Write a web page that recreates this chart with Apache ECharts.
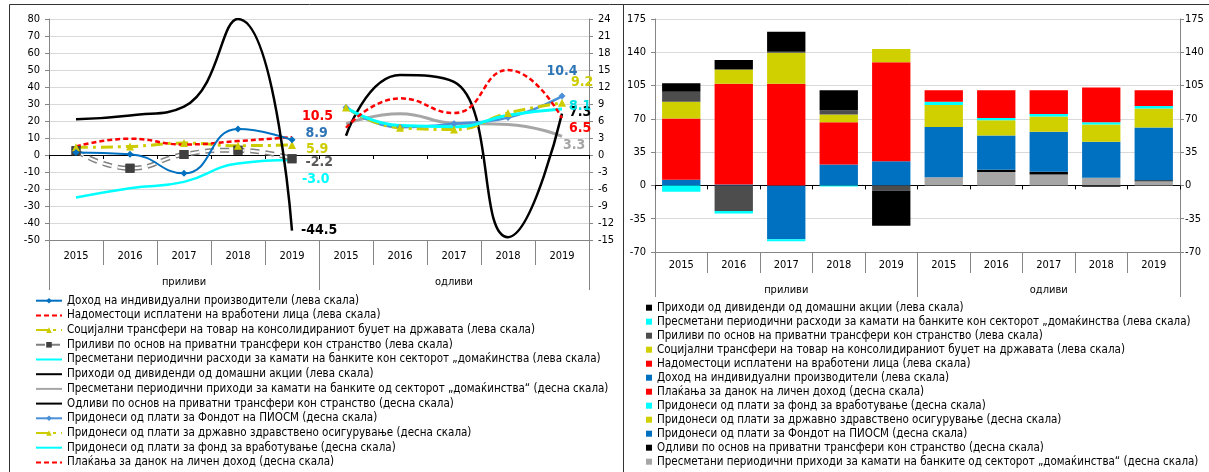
<!DOCTYPE html>
<html>
<head>
<meta charset="utf-8">
<script src="https://cdn.jsdelivr.net/npm/echarts@6/dist/echarts.min.js"></script>
<style>
html,body{margin:0;padding:0;background:#fff;}
#c{width:1209px;height:472px;}
</style>
</head>
<body>
<div id="c"></div>
<script>
// ---------- data ----------
const years = ['2015', '2016', '2017', '2018', '2019'];
const groups = ['приливи', 'одливи'];

// line chart: inflows (left scale)
const lnDohod = [1.5, 0.5, -10.8, 15.3, 8.9];
const lnNadomestoci = [5.0, 9.6, 6.2, 8.2, 10.5];
const lnSocijalni = [4.5, 5.0, 7.0, 5.5, 5.9];
const lnPrilivTransferi = [2.5, -7.8, 0.3, 2.8, -2.2];
const lnKamatiRashodi = [-25.0, -19.5, -15.8, -5.0, -3.0];
const lnDividendi = [21.0, 23.2, 28.5, 80.0, -44.5];
// line chart: outflows (right scale)
const lnKamatiPrihodi = [5.5, 7.3, 5.6, 5.4, 3.3];
const lnOdlivTransferi = [3.4, 14.1, 12.9, -14.5, 7.3];
const lnPiosm = [8.4, 4.9, 5.5, 6.6, 10.4];
const lnZdravstveno = [8.4, 4.8, 4.5, 7.4, 9.2];
const lnVrabotuvanje = [8.4, 5.2, 5.0, 7.0, 8.1];
const lnDanok = [4.8, 10.0, 7.4, 15.0, 6.5];

// bar chart: inflows
const brDohod = [6, 1, -56.5, 22, 25.5];
const brNadomestoci = [64.5, 106, 107, 44.5, 104];
const brSocijalni = [17.5, 15, 32.5, 8, 14];
const brPrilivTransferi = [10.5, -27, 1, 4.5, -5.5];
const brKamatiRashodi = [-6.6, -2.4, -2.2, -1, 0];
const brDividendi = [9, 10, 21, 21, -37];
// bar chart: outflows
const brKamatiPrihodi = [8.5, 14, 11.5, 8, 4.5];
const brOdlivTransferi = [0, 2.5, 3, -1.5, 1];
const brPiosm = [53, 36, 42, 38, 55.5];
const brZdravstveno = [23, 16, 16, 18, 20];
const brVrabotuvanje = [3.5, 2.5, 2.5, 2.5, 2.5];
const brDanok = [12, 29, 25, 36.5, 16.5];

const leftTicks = {min: -50, max: 80, interval: 10};
const rightTicks = {min: -15, max: 24, interval: 3};
const barTicks = {min: -70, max: 175, interval: 35};

// ---------- names ----------
const N = {
  dohod: 'Доход на индивидуални производители (лева скала)',
  nadom: 'Надоместоци исплатени на вработени лица (лева скала)',
  soc: 'Социјални трансфери на товар на консолидираниот буџет на државата (лева скала)',
  priliv: 'Приливи по основ на приватни трансфери кон странство (лева скала)',
  kamR: 'Пресметани периодични расходи за камати на банките кон секторот „домаќинства (лева скала)',
  div: 'Приходи од дивиденди од домашни акции (лева скала)',
  kamP: 'Пресметани периодични приходи за камати на банките од секторот „домаќинства“ (десна скала)',
  odliv: 'Одливи по основ на приватни трансфери кон странство (десна скала)',
  piosm: 'Придонеси од плати за Фондот на ПИОСМ (десна скала)',
  zdr: 'Придонеси од плати за државно здравствено осигурување (десна скала)',
  vrab: 'Придонеси од плати за фонд за вработување (десна скала)',
  danok: 'Плаќања за данок на личен доход (десна скала)'
};
const B = s => s + ' '; // distinct names for bar series

const cats = years.concat(years);
const nulls = [null, null, null, null, null];
const inL = a => a.concat(nulls);
const inR = a => nulls.concat(a);

const FONT = '"DejaVu Sans Condensed", "DejaVu Sans", sans-serif';
const LBLFONT = '"DejaVu Sans Condensed", "DejaVu Sans", sans-serif';

function endLabel(arr, color, dx, dy) {
  return arr.map((v, i) => i === arr.length - 1 ? {
    value: v,
    label: {show: true, position: 'right', distance: 0, offset: [dx, dy],
      formatter: v.toFixed(1), color: color, fontWeight: 'bold', fontSize: 14, fontFamily: LBLFONT}
  } : v);
}

const COL = {blue: '#0070c0', blue2: '#4a90d9', red: '#ff0000', yel: '#cccc00', dgrey: '#4d4d4d',
  cyan: '#00ffff', black: '#000000', lgrey: '#a6a6a6'};

function lineSeries(name, data, yIdx, opts) {
  return Object.assign({
    type: 'line', name: name, data: data, xAxisIndex: 0, yAxisIndex: yIdx,
    smooth: 0.5, symbol: 'circle', symbolSize: 0, showSymbol: true, connectNulls: false, animation: false
  }, opts);
}

const series = [
  // left scale, inflows
  lineSeries(N.kamR, inL(endLabel(lnKamatiRashodi, '#00ffff', 10, 19)), 0,
    {lineStyle: {color: COL.cyan, width: 2.5}, itemStyle: {color: COL.cyan}}),
  lineSeries(N.priliv, inL(lnPrilivTransferi), 0,
    {symbol: 'rect', symbolSize: 9,
     lineStyle: {color: '#808080', width: 5, type: [9, 6]}, itemStyle: {color: '#404040'}}),
  lineSeries(N.priliv + '  ', inL(endLabel(lnPrilivTransferi, '#595959', 9, 4)), 0,
    {symbol: 'rect', symbolSize: 9,
     lineStyle: {color: '#ffffff', width: 2, type: [9, 6]}, itemStyle: {color: '#404040'}}),
  lineSeries(N.soc, inL(endLabel(lnSocijalni, '#cccc00', 10, 4)), 0,
    {symbol: 'triangle', symbolSize: 8,
     lineStyle: {color: COL.yel, width: 3, type: [12, 5, 3, 5]}, itemStyle: {color: COL.yel}}),
  lineSeries(N.nadom, inL(endLabel(lnNadomestoci, '#ff0000', 10, -21)), 0,
    {lineStyle: {color: COL.red, width: 2.5, type: [5, 3]}, itemStyle: {color: COL.red}}),
  lineSeries(N.dohod, inL(endLabel(lnDohod, '#2e75b6', 10, -7)), 0,
    {symbol: 'diamond', symbolSize: 7,
     lineStyle: {color: COL.blue, width: 2}, itemStyle: {color: COL.blue}}),
  lineSeries(N.div, inL(endLabel(lnDividendi, '#000000', 9, 0)), 0,
    {lineStyle: {color: COL.black, width: 2.5}, itemStyle: {color: COL.black}}),
  // right scale, outflows
  lineSeries(N.kamP, inR(endLabel(lnKamatiPrihodi, '#a6a6a6', 1, 9.5)), 1,
    {lineStyle: {color: COL.lgrey, width: 3}, itemStyle: {color: COL.lgrey}}),
  lineSeries(N.odliv, inR(endLabel(lnOdlivTransferi, '#000000', 7, -1)), 1,
    {lineStyle: {color: COL.black, width: 2.5}, itemStyle: {color: COL.black}}),
  lineSeries(N.piosm, inR(endLabel(lnPiosm, '#2e75b6', -19, -25)), 1,
    {symbol: 'diamond', symbolSize: 7,
     lineStyle: {color: COL.blue2, width: 2.5}, itemStyle: {color: COL.blue2}}),
  lineSeries(N.zdr, inR(endLabel(lnZdravstveno, '#cccc00', 5, -21)), 1,
    {symbol: 'triangle', symbolSize: 8,
     lineStyle: {color: COL.yel, width: 3, type: [12, 5, 3, 5]}, itemStyle: {color: COL.yel}}),
  lineSeries(N.vrab, inR(endLabel(lnVrabotuvanje, '#00e0e0', 7, -3)), 1,
    {lineStyle: {color: COL.cyan, width: 3}, itemStyle: {color: COL.cyan}}),
  lineSeries(N.danok, inR(endLabel(lnDanok, '#ff0000', 7, 10)), 1,
    {lineStyle: {color: COL.red, width: 2.5, type: [5, 3]}, itemStyle: {color: COL.red}})
];

function barSeries(name, data, color) {
  return {type: 'bar', name: name, data: data, xAxisIndex: 3, yAxisIndex: 2, stack: 'all',
    barWidth: '73%', itemStyle: {color: color}, animation: false};
}
series.push(
  barSeries(B(N.dohod), inL(brDohod), COL.blue),
  barSeries(B(N.nadom), inL(brNadomestoci), COL.red),
  barSeries(B(N.soc), inL(brSocijalni), '#d0d000'),
  barSeries(B(N.priliv), inL(brPrilivTransferi), COL.dgrey),
  barSeries(B(N.kamR), inL(brKamatiRashodi), COL.cyan),
  barSeries(B(N.div), inL(brDividendi), COL.black),
  barSeries(B(N.kamP), inR(brKamatiPrihodi), COL.lgrey),
  barSeries(B(N.odliv), inR(brOdlivTransferi), COL.black),
  barSeries(B(N.piosm), inR(brPiosm), COL.blue),
  barSeries(B(N.zdr), inR(brZdravstveno), '#d0d000'),
  barSeries(B(N.vrab), inR(brVrabotuvanje), COL.cyan),
  barSeries(B(N.danok), inR(brDanok), COL.red)
);

const axisGrey = '#868686';
const lbl = {color: '#000', fontSize: 11, fontFamily: FONT};

function xAxes(grid, catMargin, catTick, grpMargin, grpTick) {
  return [
    {gridIndex: grid, type: 'category', data: cats, position: 'bottom',
     axisLine: {onZero: true, onZeroAxisIndex: grid * 2, lineStyle: {color: '#000', width: 1}},
     axisTick: {show: true, interval: 0, length: 4, lineStyle: {color: '#000'}},
     axisLabel: {show: false}, splitLine: {show: false}},
    {gridIndex: grid, type: 'category', data: cats, position: 'bottom',
     axisLine: {onZero: false, show: true, lineStyle: {color: axisGrey}},
     axisTick: {show: true, interval: 0, length: catTick, lineStyle: {color: axisGrey}},
     axisLabel: Object.assign({interval: 0, margin: catMargin}, lbl), splitLine: {show: false}},
    {gridIndex: grid, type: 'category', data: groups, position: 'bottom',
     axisLine: {onZero: false, show: false},
     axisTick: {show: true, interval: 0, length: grpTick, lineStyle: {color: axisGrey}},
     axisLabel: Object.assign({interval: 0, margin: grpMargin}, lbl), splitLine: {show: false}}
  ];
}

function yAx(grid, pos, t, split, margin) {
  return {gridIndex: grid, type: 'value', position: pos, min: t.min, max: t.max, interval: t.interval,
    axisLine: {show: true, lineStyle: {color: axisGrey}},
    axisTick: {show: true, length: 4, lineStyle: {color: axisGrey}},
    axisLabel: Object.assign({margin: margin}, lbl),
    splitLine: {show: split, lineStyle: {color: '#d9d9d9', width: 1}}};
}

const noMarker = [N.nadom, N.kamR, N.div, N.kamP, N.odliv, N.vrab, N.danok];
const legendLeftNames = [N.dohod, N.nadom, N.soc, N.priliv, N.kamR, N.div, N.kamP, N.odliv, N.piosm, N.zdr, N.vrab, N.danok]
  .map(n => noMarker.indexOf(n) >= 0 ? {name: n, itemStyle: {opacity: 0}} : {name: n});
const legendRightNames = [N.div, N.kamR, N.priliv, N.soc, N.nadom, N.dohod, N.danok, N.vrab, N.zdr, N.piosm, N.odliv, N.kamP].map(B);

const option = {
  backgroundColor: '#ffffff',
  animation: false,
  textStyle: {fontFamily: FONT},
  grid: [
    {left: 49, right: 1209 - 589, top: 19, bottom: 472 - 240, containLabel: false},
    {left: 655, right: 1209 - 1180, top: 19, bottom: 472 - 252, containLabel: false}
  ],
  xAxis: xAxes(0, 11, 25, 37, 50).concat(xAxes(1, 8, 21, 33, 45)),
  yAxis: [
    yAx(0, 'left', leftTicks, true, 9),
    yAx(0, 'right', rightTicks, false, 9),
    yAx(1, 'left', barTicks, true, 9),
    yAx(1, 'right', barTicks, false, 5)
  ],
  legend: [
    {orient: 'vertical', left: 35, top: 293.7, padding: 0, itemWidth: 26, itemHeight: 7, itemGap: 0.7,
     data: legendLeftNames, selectedMode: false,
     textStyle: {color: '#000', fontSize: 11.5, lineHeight: 14, fontFamily: FONT}},
    {orient: 'vertical', left: 646, top: 300.7, padding: 0, itemWidth: 6, itemHeight: 6, itemGap: 0,
     icon: 'rect', data: legendRightNames, selectedMode: false,
     textStyle: {color: '#000', fontSize: 11.5, lineHeight: 14, fontFamily: FONT}}
  ],
  graphic: [
    {type: 'line', shape: {x1: 9.5, y1: 4.5, x2: 1209, y2: 4.5}, style: {stroke: '#333', lineWidth: 1}, silent: true},
    {type: 'line', shape: {x1: 9.5, y1: 4.5, x2: 9.5, y2: 472}, style: {stroke: '#333', lineWidth: 1}, silent: true},
    {type: 'line', shape: {x1: 623.5, y1: 4.5, x2: 623.5, y2: 472}, style: {stroke: '#333', lineWidth: 1}, silent: true}
  ],
  series: series
};

const chart = echarts.init(document.getElementById('c'), null, {renderer: 'canvas'});
chart.setOption(option);
</script>
</body>
</html>
